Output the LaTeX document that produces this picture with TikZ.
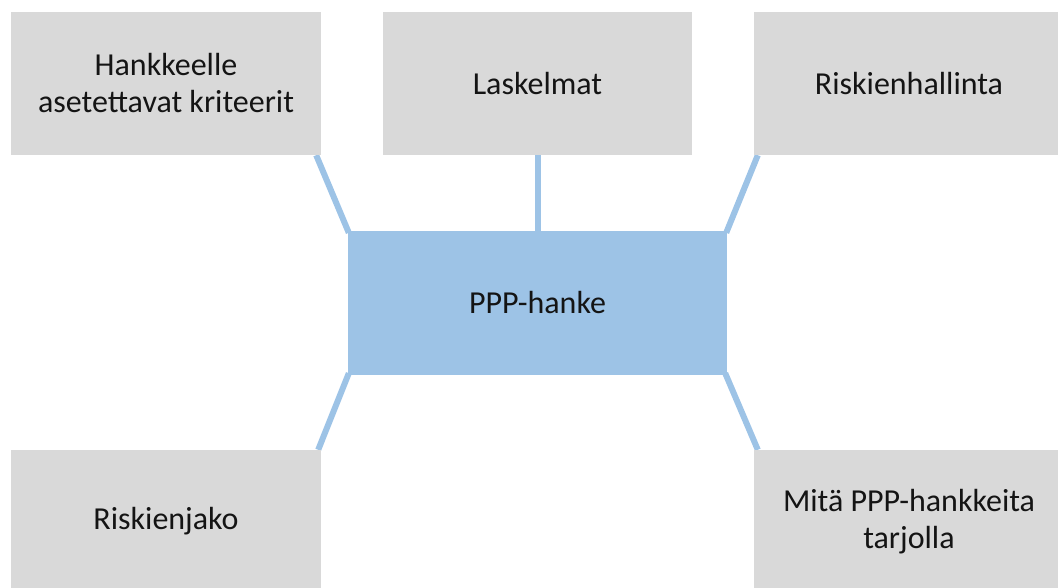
\documentclass[tikz,border=0pt]{standalone}
\usepackage{fontspec}
\setmainfont{Carlito}
\usetikzlibrary{calc,backgrounds}
\definecolor{boxgray}{HTML}{D9D9D9}
\definecolor{hubblue}{HTML}{9DC3E6}
\definecolor{inktext}{HTML}{141414}
\tikzset{
  topic/.style={fill=boxgray, draw=none, minimum width=310pt, minimum height=143pt,
    inner sep=0pt, align=center, text=inktext,
    font=\fontsize{32pt}{37pt}\selectfont},
  hub/.style={topic, fill=hubblue, minimum width=379pt, minimum height=144pt},
  spoke/.style={draw=hubblue, line width=6pt}
}
\begin{document}
\begin{tikzpicture}[x=1pt,y=-1pt]
  \useasboundingbox (0,0) rectangle (1058,588);
  % surrounding topics
  \node[topic] (tl) at (166,83.5) {Hankkeelle\\asetettavat kriteerit};
  \node[topic, minimum width=309pt] (tm) at (537.5,83.5) {Laskelmat};
  \node[topic] (tr) at (909,83.5) {Riskienhallinta};
  \node[topic] (bl) at (166,521.5) {Riskienjako};
  \node[topic] (br) at (909,521.5) {Mitä PPP-hankkeita\\tarjolla};
  % central topic
  \node[hub] (c) at (537.5,303) {PPP-hanke};
  % spokes behind the boxes
  \begin{pgfonlayer}{background}
    \draw[spoke] ($(tl.south east)+(-5,0)$) -- ($(c.north west)+(1,2)$);
    \draw[spoke] (tm.south -| c.north) -- (c.north);
    \draw[spoke] ($(tr.south west)+(4,0)$) -- ($(c.north east)+(-1,2)$);
    \draw[spoke] ($(bl.north east)+(-3,0)$) -- ($(c.south west)+(1,-2)$);
    \draw[spoke] ($(br.north west)+(4,0)$) -- ($(c.south east)+(-2,-2)$);
  \end{pgfonlayer}
\end{tikzpicture}
\end{document}
